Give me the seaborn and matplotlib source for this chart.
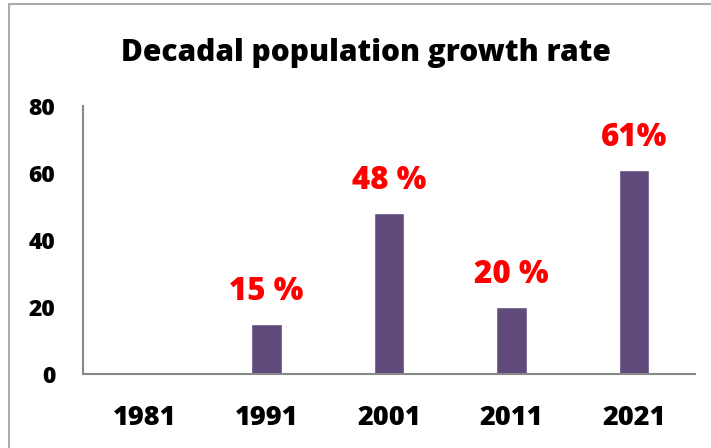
import matplotlib
matplotlib.use("Agg")
import matplotlib.pyplot as plt
import seaborn as sns
import pandas as pd
from matplotlib.lines import Line2D

years = ["1981", "1991", "2001", "2011", "2021"]
growth = [0, 15, 48, 20, 61]
labels = ["", "15 %", "48 %", "20 %", "61%"]
yticks = [0, 20, 40, 60, 80]

sns.set_style("white")
plt.rcParams['font.family'] = ['Open Sans', 'DejaVu Sans']
plt.rcParams['text.color'] = 'black'
plt.rcParams['xtick.color'] = 'black'
plt.rcParams['ytick.color'] = 'black'
W = 'heavy'

df = pd.DataFrame({"year": years, "growth": growth})

fig = plt.figure(figsize=(7.11, 4.48), dpi=100)
ax = fig.add_axes([83/711, 1 - 374/448, (695-83)/711, (374-106)/448])

sns.barplot(data=df, x="year", y="growth", color="#604A7B", saturation=1,
            width=0.25, ax=ax)

ax.set_xlim(-0.5, 4.5)
ax.set_ylim(0, 80)
ax.set_yticks(yticks)
ax.set_yticklabels([str(t) for t in yticks], fontsize=16.5, fontweight=W)
ax.set_xticks(range(len(years)))
ax.set_xticklabels(years, fontsize=19.5, fontweight=W)
ax.tick_params(axis='both', length=0, colors='black')
ax.tick_params(axis='y', pad=20)
ax.tick_params(axis='x', pad=22)
ax.set_xlabel("")
ax.set_ylabel("")

for s in ["top", "right"]:
    ax.spines[s].set_visible(False)
for s in ["left", "bottom"]:
    ax.spines[s].set_color("#888888")
    ax.spines[s].set_linewidth(1.5)

for i, (v, lab) in enumerate(zip(growth, labels)):
    if lab:
        ax.annotate(lab, xy=(i, v), xytext=(0, 32), textcoords='offset pixels',
                    ha='center', va='center', color='#FF0000',
                    fontsize=22.5, fontweight=W)

fig.text(366/711, 1 - 53/448, "Decadal population growth rate",
         ha='center', va='center', fontsize=21.5, fontweight=W, color='black')

# partial frame (top and left)
fig.add_artist(Line2D([9/711, 1.0], [1 - 4.5/448, 1 - 4.5/448],
                      transform=fig.transFigure, color="#AAAAAA", lw=1.5))
fig.add_artist(Line2D([9/711, 9/711], [0, 1 - 4.5/448],
                      transform=fig.transFigure, color="#AAAAAA", lw=1.5))

fig.savefig("out.png", dpi=100)
